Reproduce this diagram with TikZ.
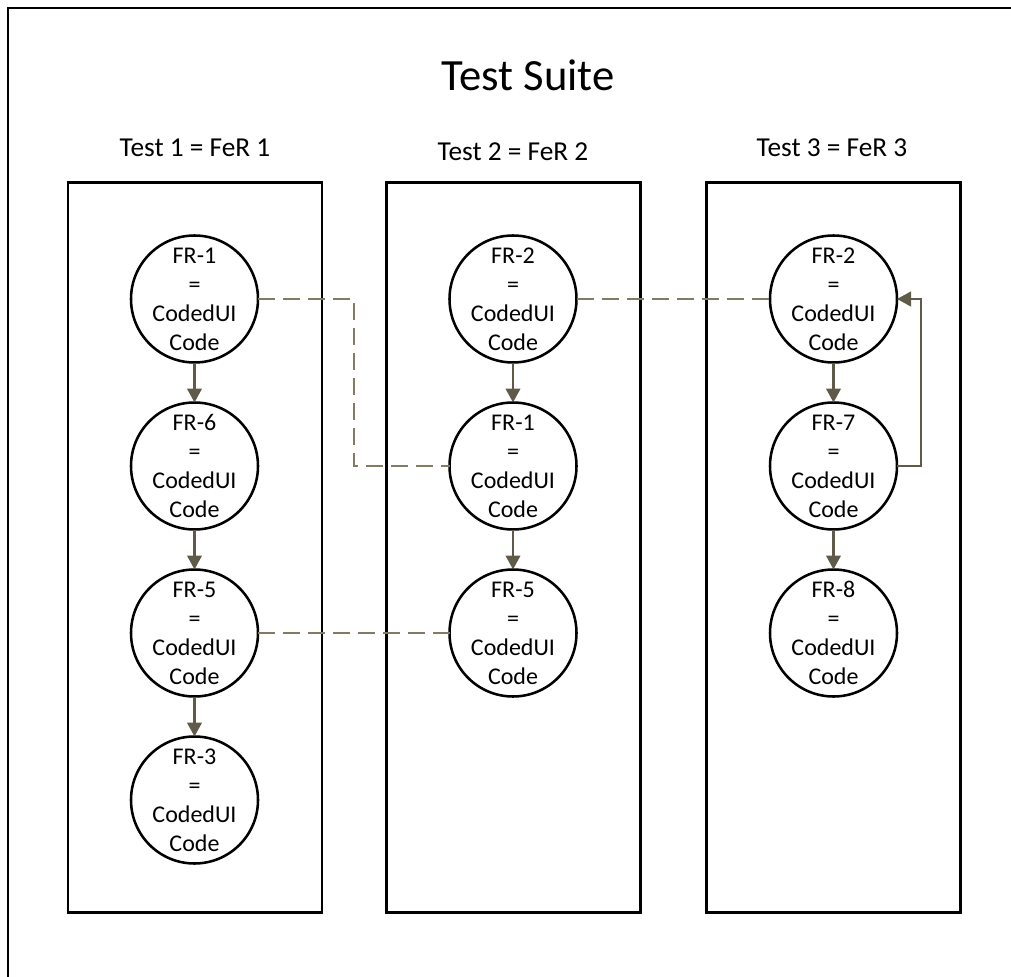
\documentclass[tikz,border=0pt]{standalone}
\usepackage{fontspec}
\setmainfont{Carlito}
\usetikzlibrary{%
	calc,%
	arrows.meta,%
	positioning,%
}
\tikzset{
	>={Triangle[length=10.5pt, width=11pt]},%
	nodes={align=center},%
	suiteframe/.style={%
			draw,%
			line width=2.2pt},%
	testbox/.style={%
			draw,%
			rectangle,%
			line width=2.2pt,%
			inner sep=0,%
			outer sep=0,%
			minimum width=190.5pt,%
			minimum height=547pt},%
	testlabel/.style={%
			font={\fontsize{20.5}{24}\selectfont}},%
	suitetitle/.style={%
			font={\fontsize{33.5}{40}\selectfont}},%
	frnode/.style={%
			draw,%
			circle,%
			line width=1.9pt,%
			fill=white,%
			inner sep=-6pt,%
			outer sep=0,%
			minimum size=95.25pt,%
			font={\fontsize{18}{21.75}\selectfont}},%
	flow/.style={%
			->,%
			draw=cflow,%
			line width=1.6pt},%
	link/.style={%
			draw=clink,%
			line width=1.5pt,%
			dash pattern=on 12.75pt off 6pt},%
}
\definecolor{cflow}{RGB}{95, 91, 72}
\definecolor{clink}{RGB}{130, 123, 100}
\newcommand{\fcode}[1]{#1\\=\\CodedUI\\Code}

\begin{document}
\begin{tikzpicture}[x=0.75pt, y=-0.75pt, node distance=30pt]%
	\useasboundingbox (0,0) rectangle (1011,977);
	\draw[suiteframe] (8,977) |- (1011,8);

	\node[suitetitle] (title) at (528,75) {Test Suite};

	\node[testbox] (t1) at (195,547.5) {};
	\node[testbox] (t2) at (513.5,547.5) {};
	\node[testbox] (t3) at (833.5,547.5) {};

	\node[testlabel] (l1) at (195,148) {Test 1 = FeR 1};
	\node[testlabel] (l2) at (513,152) {Test 2 = FeR 2};
	\node[testlabel] (l3) at (832,148) {Test 3 = FeR 3};

	% Test 1
	\node[frnode] (a1) at (194.5,299) {\fcode{FR-1}};
	\node[frnode, below=of a1] (a2) {\fcode{FR-6}};
	\node[frnode, below=of a2] (a3) {\fcode{FR-5}};
	\node[frnode, below=of a3] (a4) {\fcode{FR-3}};

	% Test 2
	\node[frnode] (b1) at (513,299) {\fcode{FR-2}};
	\node[frnode, below=of b1] (b2) {\fcode{FR-1}};
	\node[frnode, below=of b2] (b3) {\fcode{FR-5}};

	% Test 3
	\node[frnode] (c1) at (833.5,299) {\fcode{FR-2}};
	\node[frnode, below=of c1] (c2) {\fcode{FR-7}};
	\node[frnode, below=of c2] (c3) {\fcode{FR-8}};

	\draw[flow] (a1) -- (a2);
	\draw[flow] (a2) -- (a3);
	\draw[flow] (a3) -- (a4);
	\draw[flow] (b1) -- (b2);
	\draw[flow] (b2) -- (b3);
	\draw[flow] (c1) -- (c2);
	\draw[flow] (c2) -- (c3);
	\draw[flow] (c2.east) -- ++(24,0) |- (c1.east);

	\draw[link] (a1.east) -| ($(a1.east)!0.5!(b2.west)$) |- (b2.west);
	\draw[link] (b1) -- (c1);
	\draw[link] (a3) -- (b3);
\end{tikzpicture}
\end{document}
